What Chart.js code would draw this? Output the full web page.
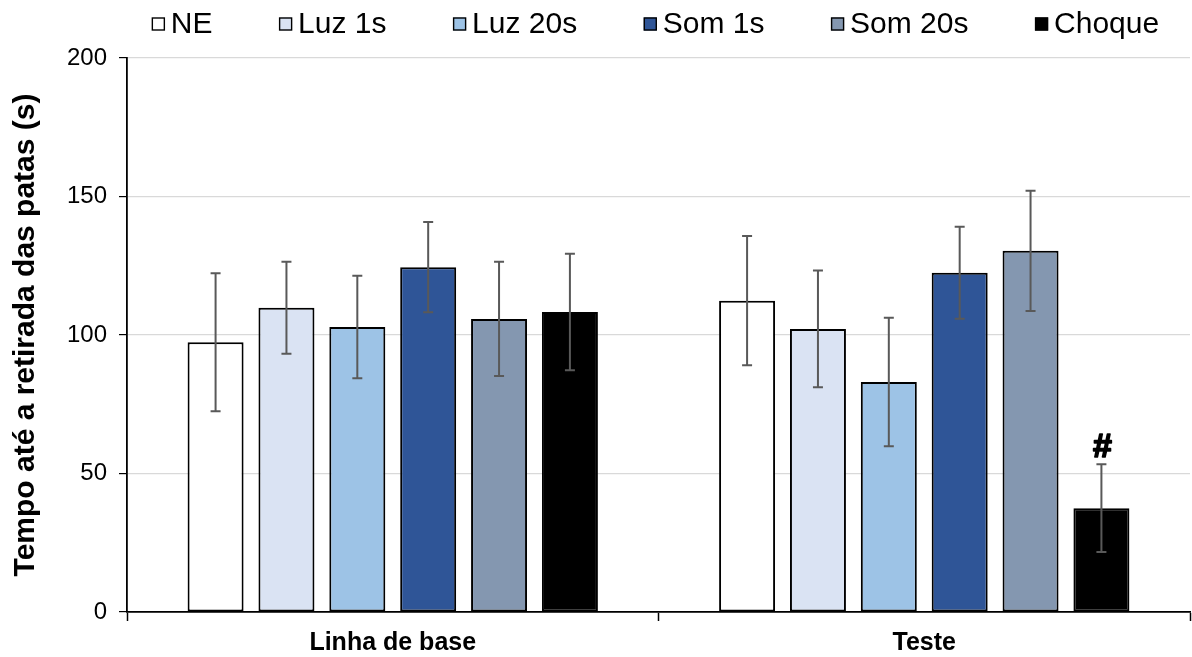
<!DOCTYPE html>
<html>
<head>
<meta charset="utf-8">
<script src="https://cdn.jsdelivr.net/npm/chart.js@4/dist/chart.umd.min.js"></script>
<style>
  html, body { margin: 0; padding: 0; background: #ffffff; }
  #wrap { width: 1192px; height: 657px; position: relative; }
</style>
</head>
<body>
<div id="wrap"><canvas id="chart"></canvas></div>
<script>
// Groups on the x axis
const categories = ['Linha de base', 'Teste'];

// Conditions (one dataset each)
const seriesNames = ['NE', 'Luz 1s', 'Luz 20s', 'Som 1s', 'Som 20s', 'Choque'];

// Means (s) per group
const neMeans     = [97.4, 112.4];
const luz1Means   = [109.8, 102.2];
const luz20Means  = [102.9, 83.0];
const som1Means   = [124.5, 122.5];
const som20Means  = [105.8, 130.4];
const choqueMeans = [108.3, 37.5];

// Error (s) per group
const neErr     = [24.9, 23.3];
const luz1Err   = [16.6, 21.1];
const luz20Err  = [18.5, 23.2];
const som1Err   = [16.3, 16.6];
const som20Err  = [20.6, 21.7];
const choqueErr = [21.0, 15.8];

// Significance marks above the error bars
const choqueMarks = ['', '#'];

// Y axis ticks
const yTicks = [0, 50, 100, 150, 200];

const seriesColors = ['#ffffff', '#dae3f3', '#9dc3e6', '#2f5597', '#8497b0', '#000000'];

const allMeans = [neMeans, luz1Means, luz20Means, som1Means, som20Means, choqueMeans];
const allErrs  = [neErr, luz1Err, luz20Err, som1Err, som20Err, choqueErr];
const allMarks = [null, null, null, null, null, choqueMarks];

const FONT = '"Liberation Sans", Arial, sans-serif';
Chart.defaults.font.family = FONT;
Chart.defaults.color = '#000000';

const datasets = seriesNames.map((name, i) => ({
  label: name,
  data: allMeans[i],
  errors: allErrs[i],
  marks: allMarks[i],
  backgroundColor: seriesColors[i],
  borderColor: '#000000',
  borderWidth: 2,
  borderSkipped: false,
  categoryPercentage: 0.8,
  barPercentage: 0.79
}));

// Error bars with caps, plus significance marks
const errorBars = {
  id: 'errorBars',
  afterDatasetsDraw(chart) {
    const ctx = chart.ctx;
    const y = chart.scales.y;
    chart.data.datasets.forEach((ds, i) => {
      const meta = chart.getDatasetMeta(i);
      meta.data.forEach((bar, j) => {
        const m = ds.data[j], e = ds.errors[j];
        const yTop = y.getPixelForValue(m + e);
        const yBot = y.getPixelForValue(m - e);
        const x = bar.x;
        ctx.save();
        ctx.strokeStyle = '#595959';
        ctx.lineWidth = 2;
        ctx.beginPath();
        ctx.moveTo(x, yTop); ctx.lineTo(x, yBot);
        ctx.moveTo(x - 5, yTop); ctx.lineTo(x + 5, yTop);
        ctx.moveTo(x - 5, yBot); ctx.lineTo(x + 5, yBot);
        ctx.stroke();
        if (ds.marks && ds.marks[j]) {
          ctx.fillStyle = '#000000';
          ctx.strokeStyle = '#000000';
          ctx.lineWidth = 1.6;
          ctx.lineJoin = 'round';
          ctx.font = 'bold 34px ' + FONT;
          ctx.textAlign = 'center';
          ctx.textBaseline = 'alphabetic';
          ctx.fillText(ds.marks[j], x + 1, yTop - 7);
          ctx.strokeText(ds.marks[j], x + 1, yTop - 7);
        }
        ctx.restore();
      });
    });
  }
};

// Legend row: small bordered squares followed by the series name
const squareLegend = {
  id: 'squareLegend',
  afterDraw(chart) {
    const ctx = chart.ctx;
    const box = 13, gapText = 6, gapItem = 66.6;
    ctx.save();
    ctx.font = '30px ' + FONT;
    const widths = chart.data.datasets.map(ds => ctx.measureText(ds.label).width);
    const total = widths.reduce((a, w) => a + box + gapText + w, 0) + gapItem * (widths.length - 1);
    const ca = chart.chartArea;
    let x = (ca.left + ca.right) / 2 - total / 2 - 3;
    const cy = 24;
    chart.data.datasets.forEach((ds, i) => {
      ctx.fillStyle = ds.backgroundColor;
      ctx.fillRect(x, cy - box / 2, box, box);
      ctx.strokeStyle = '#000000';
      ctx.lineWidth = 1.4;
      ctx.strokeRect(x + 0.5, cy - box / 2 + 0.5, box - 1, box - 1);
      ctx.fillStyle = '#000000';
      ctx.textAlign = 'left';
      ctx.textBaseline = 'middle';
      ctx.fillText(ds.label, x + box + gapText, cy + 1);
      x += box + gapText + widths[i] + gapItem;
    });
    ctx.restore();
  }
};

new Chart(document.getElementById('chart'), {
  type: 'bar',
  data: { labels: categories, datasets },
  options: {
    responsive: true,
    maintainAspectRatio: false,
    animation: false,
    layout: { padding: { top: 58, right: 2, left: 0, bottom: 0 } },
    plugins: {
      legend: { display: false },
      tooltip: { enabled: false }
    },
    scales: {
      x: {
        offset: true,
        grid: {
          offset: true,
          drawOnChartArea: false,
          drawTicks: true,
          tickLength: 9,
          tickColor: '#000000',
          tickWidth: 1.5
        },
        border: { color: '#000000', width: 1.8 },
        ticks: {
          font: { size: 25, weight: 'bold' },
          color: '#000000',
          padding: 7
        },
        afterFit(scale) { scale.height = 45; }
      },
      y: {
        min: 0,
        max: 200,
        afterBuildTicks(scale) { scale.ticks = yTicks.map(v => ({ value: v })); },
        grid: {
          color: '#d9d9d9',
          lineWidth: 1.2,
          drawTicks: true,
          tickLength: 8,
          tickColor: '#000000'
        },
        border: { color: '#000000', width: 1.8 },
        ticks: {
          font: { size: 24 },
          color: '#000000',
          padding: 12
        },
        title: {
          display: true,
          text: 'Tempo até a retirada das patas (s)',
          font: { size: 30, weight: 'bold' },
          color: '#000000',
          padding: { top: 8, bottom: 0 }
        },
        afterFit(scale) { scale.width = 127; }
      }
    }
  },
  plugins: [errorBars, squareLegend]
});
</script>
</body>
</html>
